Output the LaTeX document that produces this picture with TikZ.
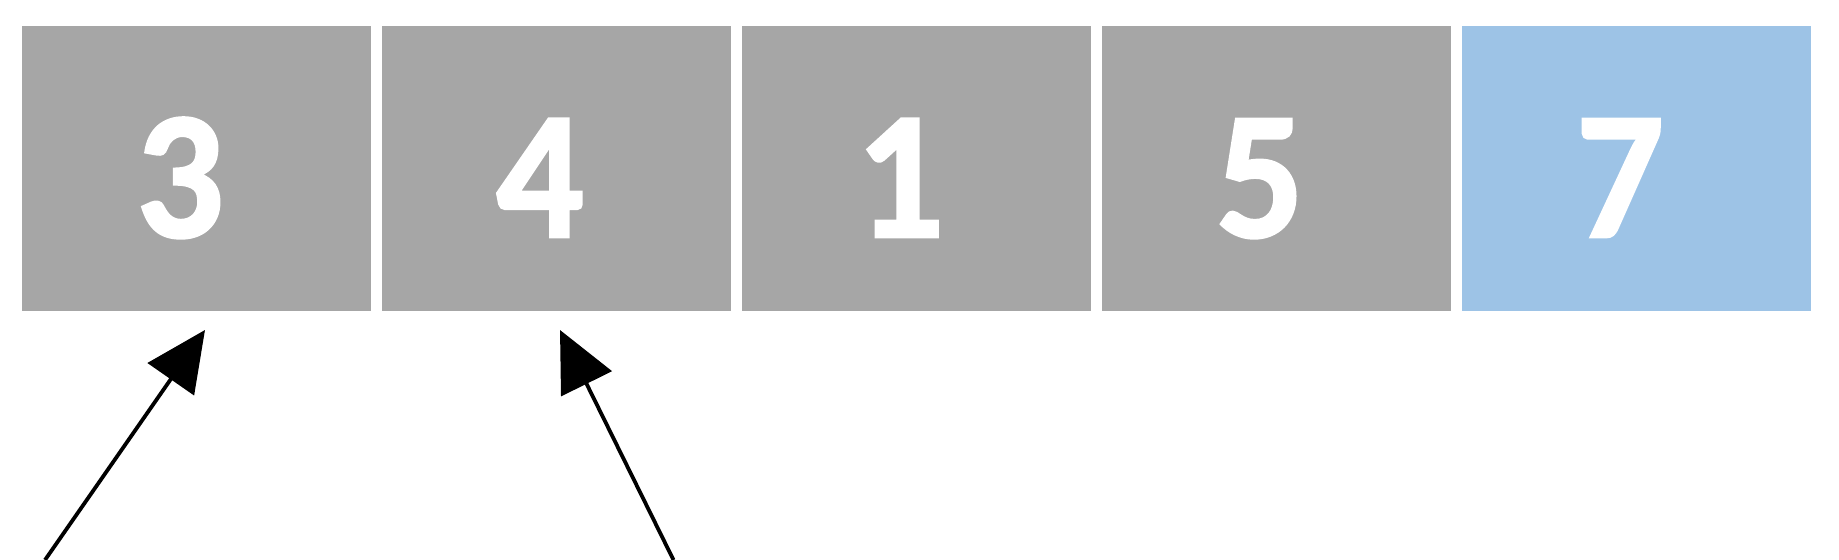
\documentclass[tikz,border=0pt]{standalone}
\usepackage{fontspec}
\newfontfamily\cellfont{Carlito}[UprightFont=* Bold, FakeBold=1.6, FakeStretch=0.95]
\usetikzlibrary{arrows.meta}
\definecolor{cellgray}{HTML}{A6A6A6}
\definecolor{cellblue}{HTML}{9DC3E6}
\tikzset{
  cell/.style={fill=#1, draw=none, minimum width=174.5pt, minimum height=142.5pt,
    inner sep=0pt, outer sep=0pt},
  digit/.style={text=white, font=\cellfont\fontsize{91}{91}\selectfont,
    inner sep=0pt, anchor=base},
  pointer/.style={draw=black, line width=1.9pt, ->}
}
\begin{document}
\begin{tikzpicture}[x=0.5pt, y=-0.5pt, >={Triangle[length=30pt,width=28pt]}]
    \useasboundingbox (0,0) rectangle (1839,560);
    \def\x{360}
    \def\y{168.5}
    \node [cell=cellgray] (A0) at (196.5+0*\x, \y) {};
    \node [cell=cellgray] (A1) at (196.5+1*\x, \y) {};
    \node [cell=cellgray] (A2) at (196.5+2*\x, \y) {};
    \node [cell=cellgray] (A3) at (196.5+3*\x, \y) {};
    \node [cell=cellblue] (A4) at (196.5+4*\x, \y) {};
    \node [digit] (D0) at (180+0*\x, 237) {3};
    \node [digit] (D1) at (180+1*\x, 237) {4};
    \node [digit] (D2) at (180+2*\x, 237) {1};
    \node [digit] (D3) at (180+3*\x, 237) {5};
    \node [digit] (D4) at (180+4*\x, 237) {7};
    \coordinate (P0) at (45, 560);
    \coordinate (P1) at (673.5, 560);
    \path (P0) edge [pointer] ([xshift=4.25pt,yshift=-9.5pt]A0.south);
    \path (P1) edge [pointer] ([xshift=1.75pt,yshift=-9.5pt]A1.south);
  \end{tikzpicture}
\end{document}
